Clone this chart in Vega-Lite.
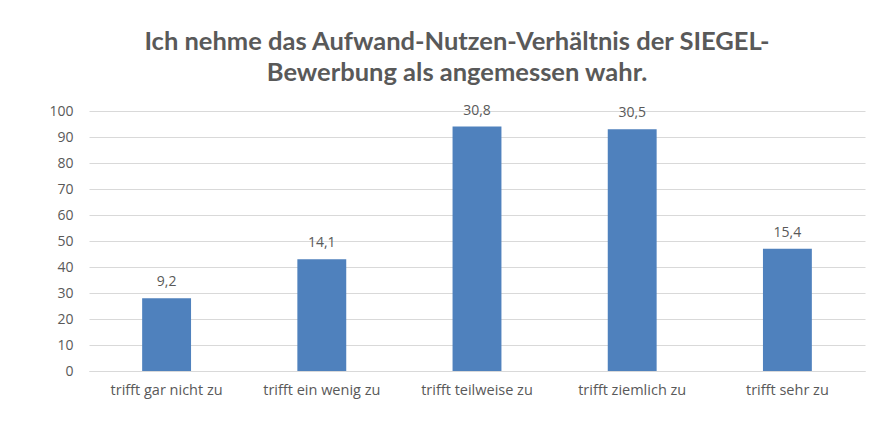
{
  "$schema": "https://vega.github.io/schema/vega-lite/v6.json",
  "autosize": "none",
  "width": 776,
  "height": 260,
  "padding": {"left": 89, "top": 111, "right": 25, "bottom": 68},
  "background": "white",
  "title": {
    "text": ["Ich nehme das Aufwand-Nutzen-Verhältnis der SIEGEL-", "Bewerbung als angemessen wahr."],
    "anchor": "middle",
    "frame": "bounds",
    "font": "Lato",
    "fontSize": 25.5,
    "fontWeight": "bold",
    "color": "#595959",
    "lineHeight": 31,
    "offset": 17
  },
  "data": {
    "values": [
      {"kategorie": "trifft gar nicht zu", "anzahl": 28, "prozent": "9,2"},
      {"kategorie": "trifft ein wenig zu", "anzahl": 43, "prozent": "14,1"},
      {"kategorie": "trifft teilweise zu", "anzahl": 94, "prozent": "30,8"},
      {"kategorie": "trifft ziemlich zu", "anzahl": 93, "prozent": "30,5"},
      {"kategorie": "trifft sehr zu", "anzahl": 47, "prozent": "15,4"}
    ]
  },
  "encoding": {
    "x": {
      "field": "kategorie",
      "type": "nominal",
      "sort": null,
      "scale": {"paddingInner": 0.685, "paddingOuter": 0.3425},
      "axis": {
        "title": null,
        "labelAngle": 0,
        "labelFont": "Open Sans",
        "labelFontSize": 14.5,
        "labelColor": "#595959",
        "labelPadding": 12,
        "ticks": false,
        "domainColor": "#D9D9D9",
        "domainWidth": 1,
        "grid": false
      }
    },
    "y": {
      "field": "anzahl",
      "type": "quantitative",
      "scale": {"domain": [0, 100], "nice": false},
      "axis": {
        "title": null,
        "values": [0, 10, 20, 30, 40, 50, 60, 70, 80, 90, 100],
        "labelFont": "Open Sans",
        "labelFontSize": 14,
        "labelColor": "#595959",
        "labelPadding": 16,
        "ticks": false,
        "domain": false,
        "grid": true,
        "gridColor": "#D9D9D9",
        "gridWidth": 1
      }
    }
  },
  "layer": [
    {"mark": {"type": "bar", "color": "#4F81BD"}},
    {
      "mark": {"type": "text", "baseline": "bottom", "dy": -9, "font": "Open Sans", "fontSize": 14, "color": "#595959"},
      "encoding": {"text": {"field": "prozent"}}
    }
  ],
  "config": {"view": {"stroke": null}}
}
